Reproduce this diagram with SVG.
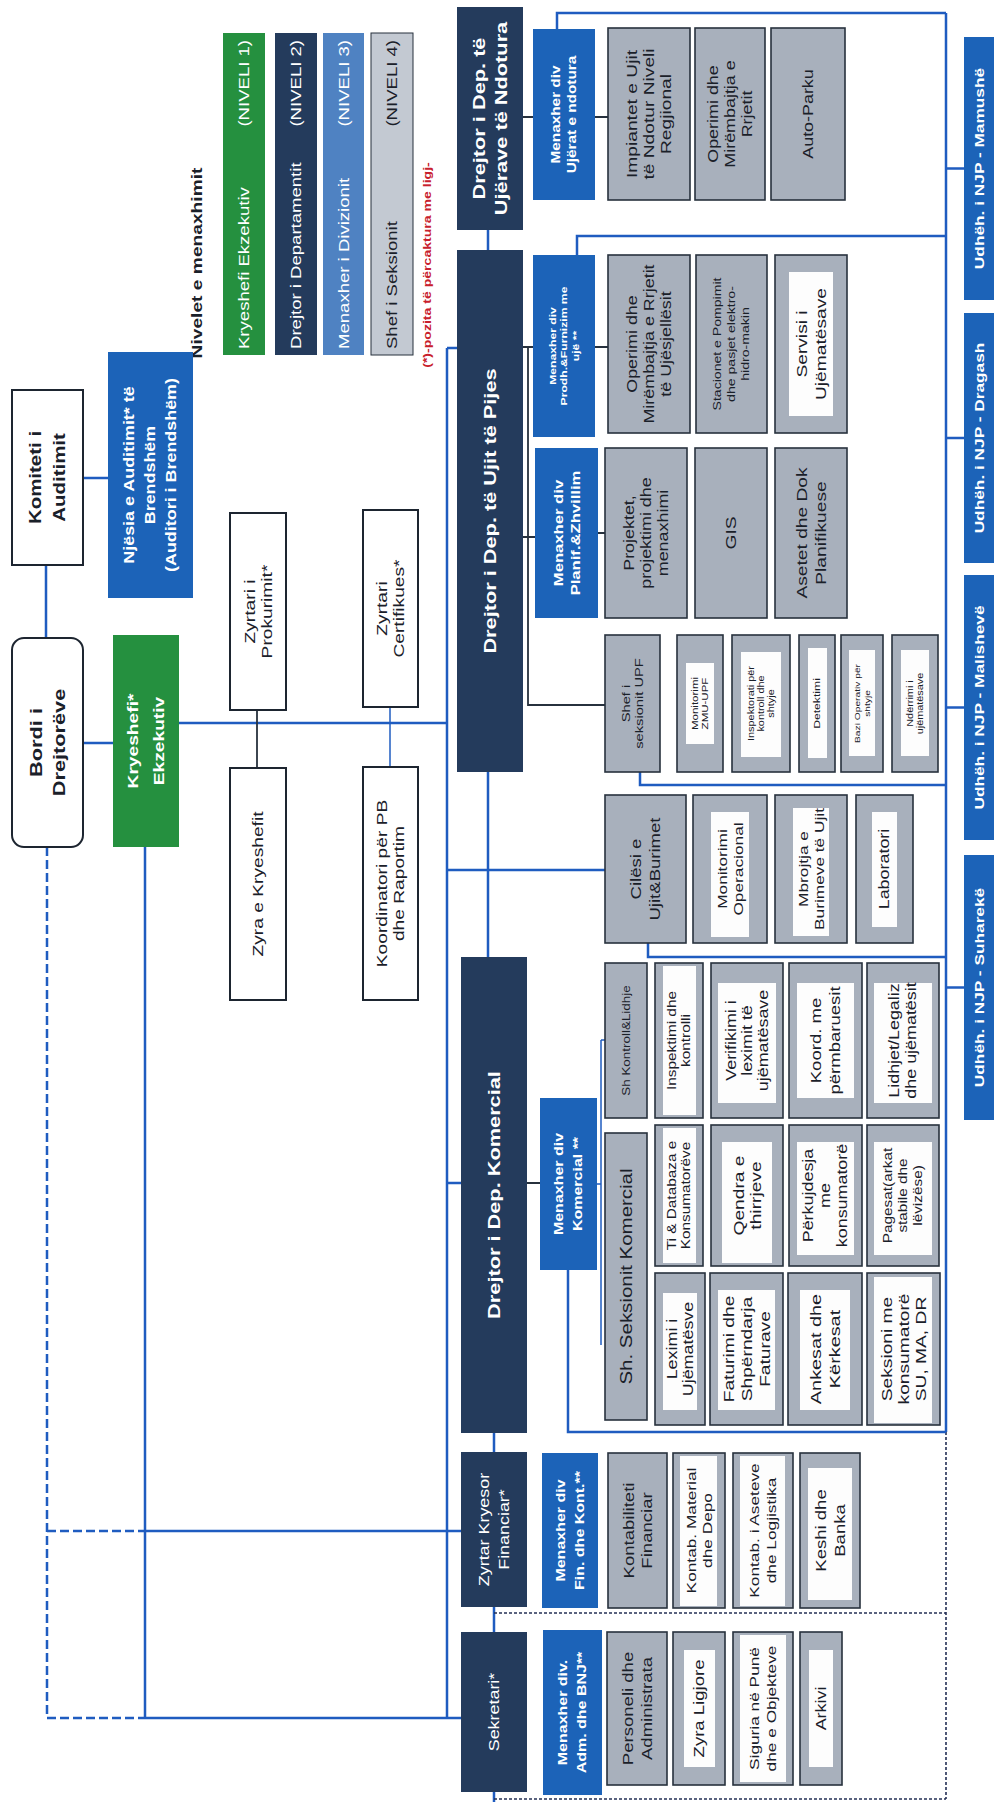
<svg xmlns="http://www.w3.org/2000/svg" width="996" height="1802" viewBox="0 0 996 1802">
<style>
text{font-family:"Liberation Sans",Arial,sans-serif;text-anchor:middle;fill:#1a2029}
.tw{fill:#fff}
.bd{font-weight:bold}
.s{text-anchor:start}
.e{text-anchor:end}
.red{fill:#c8202c;font-weight:bold}
.g{fill:#a8b0bc;stroke:#27313d;stroke-width:1.6}
.wi{fill:#fdfdfd}
.bl{fill:#1c63b8}
.nv{fill:#243b5c}
.gn{fill:#25903f}
.l3{fill:#4f82c2}
.l4{fill:#c3c9d2;stroke:#27313d;stroke-width:1}
.wb{fill:#fff;stroke:#1d2530;stroke-width:2}
.c{fill:none;stroke:#1f5cc0;stroke-width:2.5}
.c2{fill:none;stroke:#1f5cc0;stroke-width:1.5}
.k{fill:none;stroke:#27313d;stroke-width:1.8}
.d{stroke-dasharray:9 4}
.dt{fill:none;stroke:#253055;stroke-width:1.6;stroke-dasharray:3 2}
</style>
<rect width="996" height="1802" fill="#fff"/>
<g id="connectors">
<path class="c" d="M46 565V638M83 478H108M83 743H113M179 723H447"/>
<path class="k" d="M257 710V768"/>
<path class="c2" d="M390 707V767"/>
<path class="c" d="M447 348H457M447 348V1718M447 870H605M488 230V250M488 772V957M447 1183H461"/>
<path class="c" d="M494 1433V1452M494 1607V1632M494 1792V1802"/>
<path class="c d" d="M47 847V1718H145M47 1531H145"/>
<path class="c" d="M145 847V1718M145 1531H461M145 1718H461"/>
<path class="dt" d="M494 1613H946M494 1799H946M946 1432V1799"/>
<path class="c" d="M946 13V1432M557 29V13H946M577 255V236H946M640 772V785H946M648 943V957H946M568 1270V1432H946"/>
<path class="c" d="M946 168.5H964M946 438H964M946 707.5H964M946 987.5H964"/>
<path class="k" d="M523 117H533M595 117H608M523 347H533M595 347H608M528 347V705H605M523 537H535M598 533H605M527 1183H540"/>
<path class="c2" d="M597 1184H601M601 1040V1345M601 1040H605"/>
</g>
<g id="legend">
<text class="bd" font-size="15" transform="translate(197 263) rotate(-90) scale(1.28 1)" y="5">Nivelet e menaxhimit</text>
<rect class="gn" x="223" y="33" width="42" height="322"/>
<text class="tw s" font-size="14.5" transform="translate(244 349) rotate(-90) scale(1.28 1)" y="5">Kryeshefi Ekzekutiv</text>
<text class="tw e" font-size="14.5" transform="translate(244 40) rotate(-90) scale(1.28 1)" y="5">(NIVELI 1)</text>
<rect class="nv" x="275" y="33" width="42" height="322"/>
<text class="tw s" font-size="14.5" transform="translate(296 349) rotate(-90) scale(1.28 1)" y="5">Drejtor i Departamentit</text>
<text class="tw e" font-size="14.5" transform="translate(296 40) rotate(-90) scale(1.28 1)" y="5">(NIVELI 2)</text>
<rect class="l3" x="323" y="33" width="41" height="322"/>
<text class="tw s" font-size="14.5" transform="translate(343.5 349) rotate(-90) scale(1.28 1)" y="5">Menaxher i Divizionit</text>
<text class="tw e" font-size="14.5" transform="translate(343.5 40) rotate(-90) scale(1.28 1)" y="5">(NIVELI 3)</text>
<rect class="l4" x="371" y="33" width="42" height="322"/>
<text class="s" font-size="14.5" transform="translate(392 349) rotate(-90) scale(1.28 1)" y="5">Shef i Seksionit</text>
<text class="e" font-size="14.5" transform="translate(392 40) rotate(-90) scale(1.28 1)" y="5">(NIVELI 4)</text>
<text class="red" font-size="11" transform="translate(427 265) rotate(-90) scale(1.28 1)" y="4">(*)-pozita të përcaktura me ligj-</text>
</g>
<g id="komiteti"><rect class="wb" x="12" y="390" width="71" height="175"/>
<text class="bd" font-size="16" transform="translate(47.5 477.5) rotate(-90) scale(1.28 1)"><tspan x="0" y="-6.4">Komiteti i</tspan><tspan x="0" y="17.6">Auditimit</tspan></text></g>
<g id="njesia-auditimit"><rect class="bl" x="108" y="352" width="85" height="246"/>
<text class="tw bd" font-size="14" transform="translate(150.5 475) rotate(-90) scale(1.28 1)"><tspan x="0" y="-16.1">Njësia e Auditimit* të</tspan><tspan x="0" y="4.9">Brendshëm</tspan><tspan x="0" y="25.9">(Auditori i Brendshëm)</tspan></text></g>
<g id="bordi"><rect class="wb" x="12" y="638" width="71" height="209" rx="12"/>
<text class="bd" font-size="17" transform="translate(47.5 742.5) rotate(-90) scale(1.28 1)"><tspan x="0" y="-6">Bordi i</tspan><tspan x="0" y="18">Drejtorëve</tspan></text></g>
<g id="kryeshefi"><rect class="gn" x="113" y="635" width="66" height="212"/>
<text class="tw bd" font-size="15" transform="translate(146 741) rotate(-90) scale(1.28 1)"><tspan x="0" y="-7.75">Kryeshefi*</tspan><tspan x="0" y="18.25">Ekzekutiv</tspan></text></g>
<g id="prokurimi"><rect class="wb" x="230" y="513" width="56" height="197"/>
<text font-size="15" transform="translate(258 611.5) rotate(-90) scale(1.28 1)"><tspan x="0" y="-3.25">Zyrtari i</tspan><tspan x="0" y="13.75">Prokurimit*</tspan></text></g>
<g id="zyra-kryeshefit"><rect class="wb" x="230" y="768" width="56" height="232"/>
<text font-size="15" transform="translate(258 884) rotate(-90) scale(1.28 1)" y="5.25">Zyra e Kryeshefit</text></g>
<g id="certifikues"><rect class="wb" x="363" y="510" width="55" height="197"/>
<text font-size="15" transform="translate(390.5 608.5) rotate(-90) scale(1.28 1)"><tspan x="0" y="-3.25">Zyrtari</tspan><tspan x="0" y="13.75">Certifikues*</tspan></text></g>
<g id="koordinatori"><rect class="wb" x="363" y="767" width="55" height="233"/>
<text font-size="15" transform="translate(390.5 883.5) rotate(-90) scale(1.28 1)"><tspan x="0" y="-3.25">Koordinatori për PB</tspan><tspan x="0" y="13.75">dhe Raportim</tspan></text></g>
<g id="dep-ndotura"><rect class="nv" x="457" y="7" width="66" height="223"/>
<text class="tw bd" font-size="17" transform="translate(490 118.5) rotate(-90) scale(1.28 1)"><tspan x="0" y="-5">Drejtor i Dep. të</tspan><tspan x="0" y="17">Ujërave të Ndotura</tspan></text></g>
<g id="dep-pijes"><rect class="nv" x="457" y="250" width="66" height="522"/>
<text class="tw bd" font-size="17" transform="translate(490 511) rotate(-90) scale(1.28 1)" y="6">Drejtor i Dep. të Ujit të Pijes</text></g>
<g id="dep-komercial"><rect class="nv" x="461" y="957" width="66" height="476"/>
<text class="tw bd" font-size="17" transform="translate(494 1195) rotate(-90) scale(1.28 1)" y="6">Drejtor i Dep. Komercial</text></g>
<g id="zyrtar-financiar"><rect class="nv" x="461" y="1452" width="66" height="155"/>
<text class="tw" font-size="14" transform="translate(494 1529.5) rotate(-90) scale(1.28 1)"><tspan x="0" y="-5.1">Zyrtar Kryesor</tspan><tspan x="0" y="14.9">Financiar*</tspan></text></g>
<g id="sekretari"><rect class="nv" x="461" y="1632" width="66" height="160"/>
<text class="tw" font-size="14" transform="translate(494 1712) rotate(-90) scale(1.28 1)" y="4.9">Sekretari*</text></g>
<g id="men-ndotura"><rect class="bl" x="533" y="29" width="62" height="171"/>
<text class="tw bd" font-size="12" transform="translate(564 114.5) rotate(-90) scale(1.28 1)"><tspan x="0" y="-3.8">Menaxher div</tspan><tspan x="0" y="12.2">Ujërat e ndotura</tspan></text></g>
<g id="impiantet"><rect class="g" x="608" y="28" width="82" height="172"/>
<text font-size="15" transform="translate(649 114) rotate(-90) scale(1.28 1)"><tspan x="0" y="-11.75">Impiantet e Ujit</tspan><tspan x="0" y="5.25">të Ndotur Niveli</tspan><tspan x="0" y="22.25">Regjional</tspan></text></g>
<g id="operimi-rrjetit"><rect class="g" x="695" y="28" width="70" height="172"/>
<text font-size="14" transform="translate(730 114) rotate(-90) scale(1.28 1)"><tspan x="0" y="-12.1">Operimi dhe</tspan><tspan x="0" y="4.9">Mirëmbajtja e</tspan><tspan x="0" y="21.9">Rrjetit</tspan></text></g>
<g id="auto-parku"><rect class="g" x="771" y="28" width="74" height="172"/>
<text font-size="14" transform="translate(808 114) rotate(-90) scale(1.28 1)" y="4.9">Auto-Parku</text></g>
<g id="men-prodh"><rect class="bl" x="533" y="255" width="62" height="182"/>
<text class="tw bd" font-size="9.5" transform="translate(564 346) rotate(-90) scale(1.28 1)"><tspan x="0" y="-8.2">Menaxher div</tspan><tspan x="0" y="3.3">Prodh.&amp;Furnizim me</tspan><tspan x="0" y="14.8">ujë **</tspan></text></g>
<g id="operimi-ujesjellesit"><rect class="g" x="608" y="255" width="82" height="178"/>
<text font-size="14" transform="translate(649 344) rotate(-90) scale(1.28 1)"><tspan x="0" y="-12.1">Operimi dhe</tspan><tspan x="0" y="4.9">Mirëmbajtja e Rrjetit</tspan><tspan x="0" y="21.9">të Ujësjellësit</tspan></text></g>
<g id="stacionet"><rect class="g" x="696" y="255" width="71" height="178"/>
<text font-size="11" transform="translate(731.5 344) rotate(-90) scale(1.28 1)"><tspan x="0" y="-10.15">Stacionet e Pompimit</tspan><tspan x="0" y="3.85">dhe pasjet elektro-</tspan><tspan x="0" y="17.85">hidro-makin</tspan></text></g>
<g id="servisi"><rect class="g" x="775" y="255" width="72" height="178"/><rect class="wi" x="789" y="272" width="44" height="144"/>
<text font-size="15" transform="translate(811 344) rotate(-90) scale(1.28 1)"><tspan x="0" y="-4.25">Servisi i</tspan><tspan x="0" y="14.75">Ujëmatësave</tspan></text></g>
<g id="men-planif"><rect class="bl" x="535" y="448" width="63" height="170"/>
<text class="tw bd" font-size="13" transform="translate(566.5 533) rotate(-90) scale(1.28 1)"><tspan x="0" y="-3.95">Menaxher div</tspan><tspan x="0" y="13.05">Planif.&amp;Zhvillim</tspan></text></g>
<g id="projektet"><rect class="g" x="605" y="448" width="82" height="170"/>
<text font-size="14" transform="translate(646 533) rotate(-90) scale(1.28 1)"><tspan x="0" y="-12.1">Projektet,</tspan><tspan x="0" y="4.9">projektimi dhe</tspan><tspan x="0" y="21.9">menaxhimi</tspan></text></g>
<g id="gis"><rect class="g" x="695" y="448" width="72" height="170"/>
<text font-size="15" transform="translate(731 533) rotate(-90) scale(1.28 1)" y="5.25">GIS</text></g>
<g id="asetet"><rect class="g" x="775" y="448" width="72" height="170"/>
<text font-size="15" transform="translate(811 533) rotate(-90) scale(1.28 1)"><tspan x="0" y="-4.25">Asetet dhe Dok</tspan><tspan x="0" y="14.75">Planifikuese</tspan></text></g>
<g id="shef-upf"><rect class="g" x="605" y="635" width="55" height="137"/>
<text font-size="11.5" transform="translate(632.5 703.5) rotate(-90) scale(1.28 1)"><tspan x="0" y="-2.5">Shef i</tspan><tspan x="0" y="10.5">seksionit UPF</tspan></text></g>
<g id="monitorimi-zmu"><rect class="g" x="677" y="635" width="46" height="137"/><rect class="wi" x="686" y="663" width="28" height="81"/>
<text font-size="9" transform="translate(700 703.5) rotate(-90) scale(1.28 1)"><tspan x="0" y="-1.85">Monitorimi</tspan><tspan x="0" y="8.15">ZMU-UPF</tspan></text></g>
<g id="inspektorati"><rect class="g" x="732" y="635" width="58" height="137"/><rect class="wi" x="741" y="652" width="40" height="105"/>
<text font-size="8.5" transform="translate(761 703.5) rotate(-90) scale(1.28 1)"><tspan x="0" y="-7">Inspektorati për</tspan><tspan x="0" y="3">kontroll dhe</tspan><tspan x="0" y="13">shtyje</tspan></text></g>
<g id="detektimi"><rect class="g" x="799" y="635" width="36" height="137"/><rect class="wi" x="808" y="648" width="19" height="110"/>
<text font-size="9.5" transform="translate(817 703.5) rotate(-90) scale(1.28 1)" y="3.3">Detektimi</text></g>
<g id="bazi"><rect class="g" x="841" y="635" width="42" height="137"/><rect class="wi" x="849" y="650" width="26" height="106"/>
<text font-size="8" transform="translate(862 703.5) rotate(-90) scale(1.28 1)"><tspan x="0" y="-1.95">Bazi Operativ për</tspan><tspan x="0" y="7.55">shtyje</tspan></text></g>
<g id="nderrimi"><rect class="g" x="892" y="635" width="46" height="137"/><rect class="wi" x="901" y="650" width="28" height="106"/>
<text font-size="8.5" transform="translate(915 703.5) rotate(-90) scale(1.28 1)"><tspan x="0" y="-2">Ndërrimi i</tspan><tspan x="0" y="8">ujëmatësave</tspan></text></g>
<g id="cilesi"><rect class="g" x="605" y="795" width="81" height="148"/>
<text font-size="14.5" transform="translate(645.5 869) rotate(-90) scale(1.28 1)"><tspan x="0" y="-4.4">Cilësi e</tspan><tspan x="0" y="14.6">Ujit&amp;Burimet</tspan></text></g>
<g id="monitorimi-op"><rect class="g" x="693" y="795" width="74" height="148"/><rect class="wi" x="711" y="812" width="38" height="125"/>
<text font-size="13.5" transform="translate(730 869) rotate(-90) scale(1.28 1)"><tspan x="0" y="-3.3">Monitorimi</tspan><tspan x="0" y="12.7">Operacional</tspan></text></g>
<g id="mbrojtja"><rect class="g" x="775" y="795" width="72" height="148"/><rect class="wi" x="793" y="808" width="36" height="128"/>
<text font-size="13.5" transform="translate(811 869) rotate(-90) scale(1.28 1)"><tspan x="0" y="-3.3">Mbrojtja e</tspan><tspan x="0" y="12.7">Burimeve të Ujit</tspan></text></g>
<g id="laboratori"><rect class="g" x="856" y="795" width="57" height="148"/><rect class="wi" x="872" y="812" width="25" height="115"/>
<text font-size="14" transform="translate(884.5 869) rotate(-90) scale(1.28 1)" y="4.9">Laboratori</text></g>
<g id="men-komercial"><rect class="bl" x="540" y="1098" width="57" height="172"/>
<text class="tw bd" font-size="12.5" transform="translate(568.5 1184) rotate(-90) scale(1.28 1)"><tspan x="0" y="-5.1">Menaxher div</tspan><tspan x="0" y="13.9">Komercial **</tspan></text></g>
<g id="sh-kontroll"><rect class="g" x="605" y="963" width="42" height="155"/>
<text font-size="10.5" transform="translate(626 1040.5) rotate(-90) scale(1.28 1)" y="3.7">Sh Kontroll&amp;Lidhje</text></g>
<g id="inspektimi"><rect class="g" x="655" y="963" width="48" height="155"/><rect class="wi" x="663" y="966" width="33" height="149"/>
<text font-size="12" transform="translate(679 1040.5) rotate(-90) scale(1.28 1)"><tspan x="0" y="-2.8">Inspektimi dhe</tspan><tspan x="0" y="11.2">kontrolli</tspan></text></g>
<g id="verifikimi"><rect class="g" x="711" y="963" width="72" height="155"/><rect class="wi" x="718" y="983" width="58" height="120"/>
<text font-size="14" transform="translate(747 1040.5) rotate(-90) scale(1.28 1)"><tspan x="0" y="-11.1">Verifikimi i</tspan><tspan x="0" y="4.9">leximit të</tspan><tspan x="0" y="20.9">ujëmatësave</tspan></text></g>
<g id="koord"><rect class="g" x="789" y="963" width="73" height="155"/><rect class="wi" x="797" y="983" width="57" height="115"/>
<text font-size="14.5" transform="translate(825.5 1040.5) rotate(-90) scale(1.28 1)"><tspan x="0" y="-4.4">Koord. me</tspan><tspan x="0" y="14.6">përmbaruesit</tspan></text></g>
<g id="lidhjet"><rect class="g" x="867" y="963" width="72" height="155"/><rect class="wi" x="874" y="983" width="58" height="120"/>
<text font-size="14" transform="translate(903 1040.5) rotate(-90) scale(1.28 1)"><tspan x="0" y="-3.6">Lidhjet/Legaliz</tspan><tspan x="0" y="13.4">dhe ujëmatësit</tspan></text></g>
<g id="sh-seksionit"><rect class="g" x="605" y="1133" width="42" height="287"/>
<text font-size="16" transform="translate(626 1276.5) rotate(-90) scale(1.28 1)" y="5.6">Sh. Seksionit Komercial</text></g>
<g id="ti-databaza"><rect class="g" x="655" y="1125" width="48" height="141"/><rect class="wi" x="663" y="1128" width="33" height="135"/>
<text font-size="12" transform="translate(679 1195.5) rotate(-90) scale(1.28 1)"><tspan x="0" y="-2.8">Ti &amp; Databaza e</tspan><tspan x="0" y="11.2">Konsumatorëve</tspan></text></g>
<g id="qendra"><rect class="g" x="711" y="1125" width="72" height="141"/><rect class="wi" x="722" y="1142" width="50" height="121"/>
<text font-size="15" transform="translate(747 1195.5) rotate(-90) scale(1.28 1)"><tspan x="0" y="-3.25">Qendra e</tspan><tspan x="0" y="13.75">thirrjeve</tspan></text></g>
<g id="perkujdesja"><rect class="g" x="789" y="1125" width="73" height="141"/><rect class="wi" x="797" y="1142" width="57" height="113"/>
<text font-size="14" transform="translate(825.5 1195.5) rotate(-90) scale(1.28 1)"><tspan x="0" y="-12.1">Përkujdesja</tspan><tspan x="0" y="4.9">me</tspan><tspan x="0" y="21.9">konsumatorë</tspan></text></g>
<g id="pagesat"><rect class="g" x="867" y="1125" width="72" height="141"/><rect class="wi" x="874" y="1142" width="58" height="113"/>
<text font-size="12" transform="translate(903 1195.5) rotate(-90) scale(1.28 1)"><tspan x="0" y="-10.8">Pagesat(arkat</tspan><tspan x="0" y="4.2">stabile dhe</tspan><tspan x="0" y="19.2">lëvizëse)</tspan></text></g>
<g id="leximi"><rect class="g" x="655" y="1273" width="50" height="152"/><rect class="wi" x="663" y="1293" width="34" height="117"/>
<text font-size="14" transform="translate(680 1349) rotate(-90) scale(1.28 1)"><tspan x="0" y="-3.1">Leximi i</tspan><tspan x="0" y="12.9">Ujëmatësve</tspan></text></g>
<g id="faturimi"><rect class="g" x="710" y="1273" width="73" height="152"/><rect class="wi" x="718" y="1290" width="57" height="120"/>
<text font-size="15" transform="translate(746.5 1349) rotate(-90) scale(1.28 1)"><tspan x="0" y="-12.75">Faturimi dhe</tspan><tspan x="0" y="5.25">Shpërndarja</tspan><tspan x="0" y="23.25">Faturave</tspan></text></g>
<g id="ankesat"><rect class="g" x="788" y="1273" width="74" height="152"/><rect class="wi" x="800" y="1290" width="50" height="120"/>
<text font-size="15.5" transform="translate(825 1349) rotate(-90) scale(1.28 1)"><tspan x="0" y="-4.1">Ankesat dhe</tspan><tspan x="0" y="14.9">Kërkesat</tspan></text></g>
<g id="seksioni-konsumatore"><rect class="g" x="867" y="1273" width="73" height="152"/><rect class="wi" x="874" y="1277" width="58" height="146"/>
<text font-size="15" transform="translate(903.5 1349) rotate(-90) scale(1.28 1)"><tspan x="0" y="-11.75">Seksioni me</tspan><tspan x="0" y="5.25">konsumatorë</tspan><tspan x="0" y="22.25">SU, MA, DR</tspan></text></g>
<g id="men-fin"><rect class="bl" x="542" y="1453" width="56" height="155"/>
<text class="tw bd" font-size="12.5" transform="translate(570 1530.5) rotate(-90) scale(1.28 1)"><tspan x="0" y="-5.1">Menaxher div</tspan><tspan x="0" y="13.9">Fin. dhe Kont.**</tspan></text></g>
<g id="kontabiliteti"><rect class="g" x="608" y="1453" width="59" height="155"/>
<text font-size="14.5" transform="translate(637.5 1530.5) rotate(-90) scale(1.28 1)"><tspan x="0" y="-3.9">Kontabiliteti</tspan><tspan x="0" y="14.1">Financiar</tspan></text></g>
<g id="kontab-material"><rect class="g" x="673" y="1453" width="52" height="155"/><rect class="wi" x="680" y="1456" width="37" height="150"/>
<text font-size="13.5" transform="translate(699 1530.5) rotate(-90) scale(1.28 1)"><tspan x="0" y="-3.3">Kontab. Material</tspan><tspan x="0" y="12.7">dhe Depo</tspan></text></g>
<g id="kontab-aseteve"><rect class="g" x="733" y="1453" width="60" height="155"/><rect class="wi" x="740" y="1456" width="45" height="150"/>
<text font-size="13.5" transform="translate(763 1530.5) rotate(-90) scale(1.28 1)"><tspan x="0" y="-3.8">Kontab. i Aseteve</tspan><tspan x="0" y="13.2">dhe Logjistika</tspan></text></g>
<g id="keshi"><rect class="g" x="800" y="1453" width="60" height="155"/><rect class="wi" x="808" y="1468" width="44" height="132"/>
<text font-size="14.5" transform="translate(830 1530.5) rotate(-90) scale(1.28 1)"><tspan x="0" y="-4.4">Keshi dhe</tspan><tspan x="0" y="14.6">Banka</tspan></text></g>
<g id="men-adm"><rect class="bl" x="543" y="1630" width="59" height="165"/>
<text class="tw bd" font-size="12.5" transform="translate(572.5 1712.5) rotate(-90) scale(1.28 1)"><tspan x="0" y="-5.1">Menaxher div.</tspan><tspan x="0" y="13.9">Adm. dhe BNJ**</tspan></text></g>
<g id="personeli"><rect class="g" x="607" y="1632" width="60" height="153"/>
<text font-size="14.5" transform="translate(637 1708.5) rotate(-90) scale(1.28 1)"><tspan x="0" y="-4.4">Personeli dhe</tspan><tspan x="0" y="14.6">Administrata</tspan></text></g>
<g id="zyra-ligjore"><rect class="g" x="673" y="1632" width="52" height="153"/><rect class="wi" x="684" y="1650" width="31" height="117"/>
<text font-size="14.5" transform="translate(699 1708.5) rotate(-90) scale(1.28 1)" y="5.1">Zyra Ligjore</text></g>
<g id="siguria"><rect class="g" x="733" y="1632" width="60" height="153"/><rect class="wi" x="740" y="1635" width="46" height="147"/>
<text font-size="13.5" transform="translate(763 1708.5) rotate(-90) scale(1.28 1)"><tspan x="0" y="-3.8">Siguria në Punë</tspan><tspan x="0" y="13.2">dhe e Objekteve</tspan></text></g>
<g id="arkivi"><rect class="g" x="800" y="1632" width="42" height="153"/><rect class="wi" x="809" y="1650" width="24" height="117"/>
<text font-size="14" transform="translate(821 1708.5) rotate(-90) scale(1.28 1)" y="4.9">Arkivi</text></g>
<g id="njp-mamushe"><rect class="bl" x="964" y="37" width="30" height="263"/>
<text class="tw bd" font-size="13.5" transform="translate(979 168.5) rotate(-90) scale(1.28 1)" y="4.7">Udhëh. i NJP - Mamushë</text></g>
<g id="njp-dragash"><rect class="bl" x="964" y="313" width="30" height="250"/>
<text class="tw bd" font-size="13.5" transform="translate(979 438) rotate(-90) scale(1.28 1)" y="4.7">Udhëh. i NJP - Dragash</text></g>
<g id="njp-malisheve"><rect class="bl" x="964" y="575" width="30" height="265"/>
<text class="tw bd" font-size="13.5" transform="translate(979 707.5) rotate(-90) scale(1.28 1)" y="4.7">Udhëh. i NJP - Malishevë</text></g>
<g id="njp-suhareke"><rect class="bl" x="964" y="855" width="30" height="265"/>
<text class="tw bd" font-size="13.5" transform="translate(979 987.5) rotate(-90) scale(1.28 1)" y="4.7">Udhëh. i NJP - Suharekë</text></g>
</svg>
